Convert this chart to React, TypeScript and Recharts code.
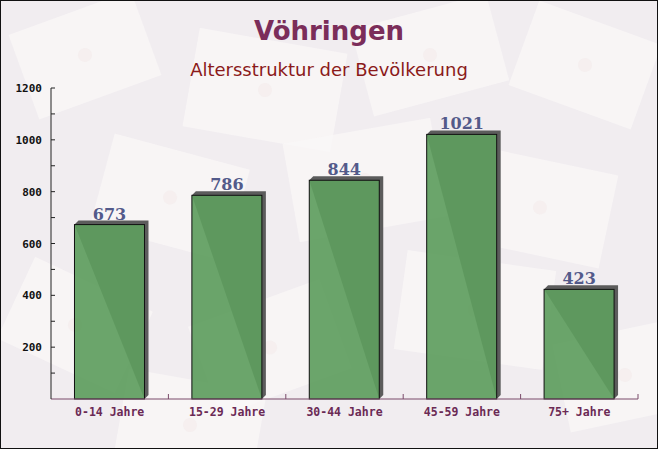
import { BarChart, Bar, XAxis, YAxis, LabelList } from "recharts"

const categories = ["0-14 Jahre", "15-29 Jahre", "30-44 Jahre", "45-59 Jahre", "75+ Jahre"]
const population = [673, 786, 844, 1021, 423]
const yTicks = [0, 100, 200, 300, 400, 500, 600, 700, 800, 900, 1000, 1100, 1200]

const data = categories.map((label, i) => ({ label, value: population[i] }))

const W = 658
const H = 449
const M = { top: 88, right: 20, left: 0, bottom: 0 }
const Y_W = 51
const X_H = 50
const BAND = (W - M.right - Y_W) / categories.length
const DEPTH = 4

function Bar3D(props: any) {
  const { x, y, width, height } = props
  if (!height) return null
  return (
    <g>
      <polygon
        points={`${x},${y} ${x + DEPTH},${y - DEPTH} ${x + width + DEPTH},${y - DEPTH} ${x + width + DEPTH},${y + height - DEPTH} ${x + width},${y + height}`}
        fill="#5c5c5c"
      />
      <rect x={x} y={y} width={width} height={height} fill="#5e9d5e" fillOpacity={0.92} stroke="#111" strokeWidth={1} />
    </g>
  )
}

function YTick(props: any) {
  const { x, y, payload } = props
  const v = payload.value
  const major = v % 200 === 0
  return (
    <g>
      {v > 0 && <line x1={Y_W} x2={Y_W + 4} y1={y} y2={y} stroke="#222" />}
      {major && v > 0 && (
        <text x={x - 1} y={y} dy={4} textAnchor="end" fontFamily="DejaVu Sans Mono" fontWeight="bold" fontSize={11} fill="#111">
          {v}
        </text>
      )}
    </g>
  )
}

function XTick(props: any) {
  const { x, y, payload } = props
  const axisY = y - 8
  return (
    <g>
      <line x1={x + BAND / 2} x2={x + BAND / 2} y1={axisY} y2={axisY - 5} stroke="#7a4a6a" />
      <text x={x} y={y} dy={9} textAnchor="middle" fontFamily="DejaVu Sans Mono" fontWeight="bold" fontSize={11.5} fill="#6b2a55">
        {payload.value}
      </text>
    </g>
  )
}

function Background() {
  const envs = [
    [20, 10, 130, 90, -20], [190, 40, 150, 100, 10], [360, 10, 140, 90, -15], [520, 20, 130, 90, 20],
    [100, 150, 140, 95, 15], [290, 130, 150, 100, -10], [470, 160, 140, 95, 12], [10, 280, 130, 90, 25],
    [200, 300, 140, 95, -20], [400, 260, 150, 100, 8], [560, 330, 130, 90, -12], [120, 380, 140, 90, 10],
  ]
  return (
    <svg width={W} height={H} style={{ position: "absolute", left: 0, top: 0 }}>
      <rect x={0} y={0} width={W} height={H} fill="#f1edf0" />
      {envs.map(([ex, ey, ew, eh, r], i) => (
        <g key={i} transform={`rotate(${r} ${ex + ew / 2} ${ey + eh / 2})`}>
          <rect x={ex} y={ey} width={ew} height={eh} fill="#f9f7f7" opacity={0.75} />
          <circle cx={ex + ew / 2} cy={ey + eh / 2} r={7} fill="#f4eaea" opacity={0.5} />
        </g>
      ))}
      <rect x={0.5} y={0.5} width={W - 1} height={H - 1} fill="none" stroke="#111" />
    </svg>
  )
}

export default function App() {
  return (
    <div style={{ position: "absolute", left: 0, top: 0, width: W, height: H }}>
      <Background />
      <svg width={W} height={H} style={{ position: "absolute", left: 0, top: 0 }}>
        <text x={W / 2} y={40} textAnchor="middle" fontFamily="DejaVu Sans" fontWeight="bold" fontSize={26} fill="#7b2d5a">
          Vöhringen
        </text>
        <text x={W / 2} y={76} textAnchor="middle" fontFamily="DejaVu Sans" fontSize={18} fill="#8b1a1a">
          Altersstruktur der Bevölkerung
        </text>
      </svg>
      <div style={{ position: "absolute", left: 0, top: 0 }}>
        <BarChart width={W} height={H} data={data} margin={M} barCategoryGap="20%">
          <XAxis
            dataKey="label"
            height={X_H}
            tickLine={false}
            axisLine={{ stroke: "#7a4a6a" }}
            tick={<XTick />}
            interval={0}
          />
          <YAxis
            width={Y_W}
            domain={[0, 1200]}
            ticks={yTicks}
            interval={0}
            tickLine={false}
            axisLine={{ stroke: "#222" }}
            tick={<YTick />}
          />
          <Bar dataKey="value" shape={<Bar3D />} isAnimationActive={false}>
            <LabelList
              dataKey="value"
              position="top"
              offset={5}
              style={{ fill: "#535a8a", fontFamily: "DejaVu Serif", fontWeight: "bold", fontSize: 16 }}
            />
          </Bar>
        </BarChart>
      </div>
    </div>
  )
}
